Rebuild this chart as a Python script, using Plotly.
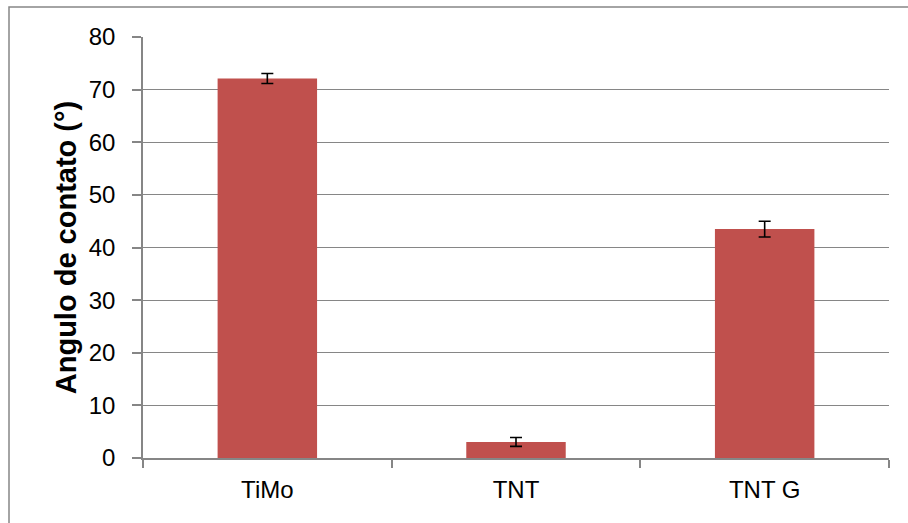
import plotly.graph_objects as go

categories = ["TiMo", "TNT", "TNT G"]
values = [72.1, 3.05, 43.5]
errors = [0.95, 0.85, 1.5]
y_ticks = [0, 10, 20, 30, 40, 50, 60, 70, 80]

W, H = 908, 523
L, R, T, B = 143, 19, 37, 65
pw, ph = W - L - R, H - T - B

fig = go.Figure(go.Bar(
    x=categories, y=values,
    marker=dict(color="#C0504D", line=dict(width=0)),
    error_y=dict(type="data", array=errors, visible=True,
                 color="black", thickness=1.6, width=6),
))

# outer chart border (partially cropped at right/bottom)
fig.add_shape(type="rect", xref="paper", yref="paper",
              x0=(9 - L) / pw, x1=(916 - L) / pw,
              y0=-(530 - (H - B)) / ph, y1=((H - B) - 7) / ph,
              line=dict(color="#868686", width=1.5), fillcolor="rgba(0,0,0,0)",
              layer="below")

fig.update_layout(
    width=W, height=H,
    margin=dict(l=L, r=R, t=T, b=B, autoexpand=False),
    paper_bgcolor="white", plot_bgcolor="white",
    bargap=0.6,
    showlegend=False,
    font=dict(family="Liberation Sans, Arial, sans-serif", color="black", size=24),
)
fig.update_xaxes(
    showline=True, linecolor="#868686", linewidth=1.5,
    ticks="outside", tickson="boundaries", ticklen=8, tickcolor="#868686", tickwidth=1.5,
    showgrid=False, tickfont=dict(size=24), ticklabelstandoff=9,
)
fig.update_yaxes(
    range=[0, 80], tickvals=y_ticks,
    showline=True, linecolor="#868686", linewidth=1.5,
    ticks="outside", ticklen=9, tickcolor="#868686", tickwidth=1.5,
    showgrid=True, gridcolor="#868686", gridwidth=1,
    zeroline=False,
    tickfont=dict(size=24), ticklabelstandoff=12,
    title=dict(text="<b>Angulo de contato (°)</b>", font=dict(size=29), standoff=4),
)

fig.write_html("out.html", config={"displayModeBar": False},
               post_script="document.body.style.margin='0';document.body.style.overflow='hidden';")
